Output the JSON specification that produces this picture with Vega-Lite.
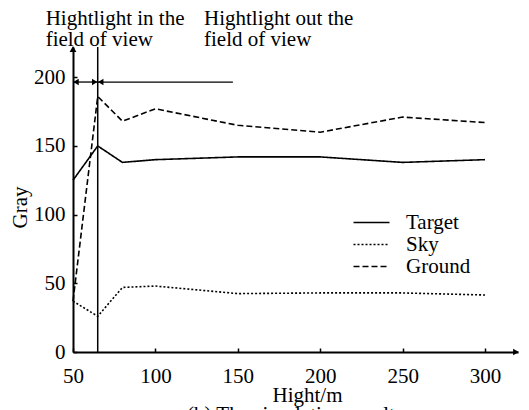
{
  "$schema": "https://vega.github.io/schema/vega-lite/v6.json",
  "width": 445,
  "height": 305,
  "autosize": {"type": "none"},
  "padding": {"left": 73, "top": 47, "right": 11, "bottom": 58},
  "background": "white",
  "config": {"view": {"stroke": null}, "font": "Liberation Serif"},
  "datasets": {
    "series": [
      {"x": 50, "y": 125, "s": "Target"},
      {"x": 65, "y": 150, "s": "Target"},
      {"x": 80, "y": 138, "s": "Target"},
      {"x": 100, "y": 140, "s": "Target"},
      {"x": 150, "y": 142, "s": "Target"},
      {"x": 200, "y": 142, "s": "Target"},
      {"x": 250, "y": 138, "s": "Target"},
      {"x": 300, "y": 140, "s": "Target"},
      {"x": 50, "y": 37, "s": "Sky"},
      {"x": 65, "y": 26, "s": "Sky"},
      {"x": 80, "y": 47, "s": "Sky"},
      {"x": 100, "y": 48, "s": "Sky"},
      {"x": 150, "y": 42.5, "s": "Sky"},
      {"x": 200, "y": 43, "s": "Sky"},
      {"x": 250, "y": 43, "s": "Sky"},
      {"x": 300, "y": 41.5, "s": "Sky"},
      {"x": 50, "y": 37, "s": "Ground"},
      {"x": 65, "y": 186, "s": "Ground"},
      {"x": 80, "y": 168, "s": "Ground"},
      {"x": 100, "y": 177, "s": "Ground"},
      {"x": 150, "y": 165, "s": "Ground"},
      {"x": 200, "y": 160, "s": "Ground"},
      {"x": 250, "y": 171, "s": "Ground"},
      {"x": 300, "y": 167, "s": "Ground"}
    ],
    "vline": [{"x": 65, "y": 0, "y2": 222}],
    "hlines": [
      {"x": 50, "x2": 65, "y": 196.5},
      {"x": 65, "x2": 147, "y": 196.5}
    ],
    "leftheads": [{"x": 50, "y": 196.5}, {"x": 65, "y": 196.5}],
    "rightheads": [{"x": 65, "y": 196.5}],
    "uphead": [{"x": 50, "y": 222}],
    "xhead": [{"x": 320, "y": 0}],
    "notes": [
      {"x": 33.4, "y": 238, "t": "Hightlight in the\nfield of view"},
      {"x": 129.5, "y": 238, "t": "Hightlight out the\nfield of view"}
    ],
    "caption": [{"x": 184.7, "y": -50, "t": "(b) The simulation results"}]
  },
  "encoding": {
    "x": {
      "field": "x",
      "type": "quantitative",
      "scale": {"domain": [50, 320], "nice": false, "zero": false},
      "axis": {
        "values": [50, 100, 150, 200, 250, 300],
        "title": "Hight/m",
        "grid": false,
        "tickSize": -4,
        "tickColor": "black",
        "tickWidth": 1.5,
        "domainColor": "black",
        "domainWidth": 2,
        "labelFont": "Liberation Serif",
        "labelFontSize": 21,
        "labelColor": "black",
        "labelPadding": 17,
        "labelFlush": false,
        "titleFont": "Liberation Serif",
        "titleFontSize": 21,
        "titleFontWeight": "normal",
        "titleColor": "black",
        "titleX": 234,
        "titleY": 49,
        "titleBaseline": "alphabetic",
        "titleAlign": "center"
      }
    },
    "y": {
      "field": "y",
      "type": "quantitative",
      "scale": {"domain": [0, 222], "nice": false, "zero": false},
      "axis": {
        "values": [0, 50, 100, 150, 200],
        "title": "Gray",
        "grid": false,
        "tickSize": -4,
        "tickColor": "black",
        "tickWidth": 1.5,
        "domainColor": "black",
        "domainWidth": 2,
        "labelFont": "Liberation Serif",
        "labelFontSize": 21,
        "labelColor": "black",
        "labelPadding": 12,
        "labelFlush": false,
        "titleFont": "Liberation Serif",
        "titleFontSize": 21,
        "titleFontWeight": "normal",
        "titleColor": "black",
        "titleX": -47,
        "titleY": 160,
        "titleAngle": -90,
        "titleBaseline": "alphabetic",
        "titleAlign": "center"
      }
    }
  },
  "layer": [
    {
      "data": {"name": "vline"},
      "mark": {"type": "rule", "color": "black", "strokeWidth": 1.5},
      "encoding": {"y2": {"field": "y2"}}
    },
    {
      "data": {"name": "hlines"},
      "mark": {"type": "rule", "color": "black", "strokeWidth": 1.3},
      "encoding": {"x2": {"field": "x2"}}
    },
    {
      "data": {"name": "leftheads"},
      "mark": {"type": "point", "shape": "triangle-left", "filled": true, "color": "black", "size": 40, "opacity": 1, "xOffset": 3}
    },
    {
      "data": {"name": "rightheads"},
      "mark": {"type": "point", "shape": "triangle-right", "filled": true, "color": "black", "size": 40, "opacity": 1, "xOffset": -3}
    },
    {
      "data": {"name": "uphead"},
      "mark": {"type": "point", "shape": "triangle-up", "filled": true, "color": "black", "size": 45, "opacity": 1, "yOffset": 2}
    },
    {
      "data": {"name": "xhead"},
      "mark": {"type": "point", "shape": "triangle-right", "filled": true, "color": "black", "size": 45, "opacity": 1, "xOffset": -2}
    },
    {
      "data": {"name": "series"},
      "mark": {"type": "line", "color": "black", "strokeWidth": 1.6},
      "encoding": {
        "strokeDash": {
          "field": "s",
          "type": "nominal",
          "scale": {"domain": ["Target", "Sky", "Ground"], "range": [[1, 0], [2, 2], [6, 3]]},
          "legend": {
            "orient": "none",
            "legendX": 288,
            "legendY": 165,
            "title": null,
            "symbolType": "M-2,0H2",
            "symbolSize": 324,
            "symbolStrokeWidth": 1.5,
            "symbolStrokeColor": "black",
            "symbolFillColor": "transparent",
            "labelFont": "Liberation Serif",
            "labelFontSize": 21,
            "labelColor": "black",
            "labelOffset": 24,
            "rowPadding": 0
          }
        }
      }
    },
    {
      "data": {"name": "notes"},
      "mark": {"type": "text", "align": "left", "baseline": "alphabetic", "lineBreak": "\n", "lineHeight": 20.5, "fontSize": 21, "font": "Liberation Serif", "color": "black"},
      "encoding": {"text": {"field": "t"}}
    },
    {
      "data": {"name": "caption"},
      "mark": {"type": "text", "align": "center", "baseline": "alphabetic", "fontSize": 21, "font": "Liberation Serif", "color": "black"},
      "encoding": {"text": {"field": "t"}}
    }
  ]
}
